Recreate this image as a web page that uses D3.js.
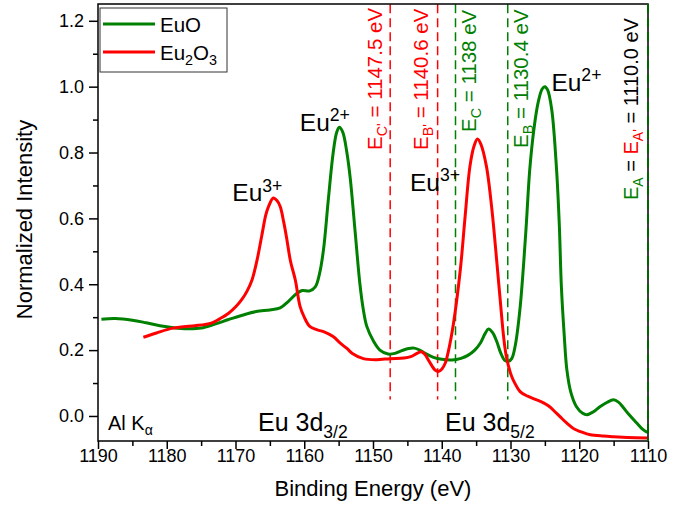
<!DOCTYPE html>
<html>
<head>
<meta charset="utf-8">
<script src="https://cdn.jsdelivr.net/npm/d3@7"></script>
<style>
  html, body { margin: 0; padding: 0; background: #fff; }
  svg { display: block; font-family: "Liberation Sans", Arial, sans-serif; }
</style>
</head>
<body>
<svg id="chart" width="697" height="522"></svg>
<script>
// Eu 3d XPS spectra (Al Kα), normalized intensity vs binding energy (eV)
const euoEnergy = [1189.5, 1187.5, 1185, 1183, 1181, 1179, 1177, 1175, 1173, 1171, 1169, 1167, 1165, 1163.5,
  1162.3, 1161.1, 1160.3, 1159.2, 1158.4, 1157.8, 1157.2, 1156.5, 1155.8, 1155.3, 1154.9, 1154.4, 1153.8,
  1153.3, 1152.6, 1151.9, 1151.4, 1150.9, 1149.9, 1149.0, 1147.8, 1146.8, 1146.0, 1144.8, 1144.0, 1143.2,
  1142.4, 1141.2, 1140.0, 1138.5, 1137.2, 1136.2, 1135.2, 1134.4, 1133.7, 1133.2, 1132.6, 1132.0, 1131.4,
  1130.8, 1130.3, 1129.8, 1129.3, 1128.6, 1127.8, 1127.2, 1126.6, 1126.0, 1125.4, 1125.0, 1124.6, 1124.0,
  1123.3, 1122.9, 1122.6, 1122.2, 1121.8, 1121.2, 1120.4, 1119.5, 1118.9, 1118.0, 1117.0, 1116.0, 1115.0,
  1114.3, 1113.6, 1112.8, 1111.6, 1110.8, 1110.1];
const euoIntensity = [0.294, 0.296, 0.291, 0.283, 0.274, 0.268, 0.265, 0.267, 0.279, 0.293, 0.306, 0.317, 0.322, 0.328,
  0.348, 0.372, 0.381, 0.380, 0.392, 0.43, 0.505, 0.657, 0.798, 0.86, 0.877, 0.862, 0.80,
  0.72, 0.56, 0.40, 0.322, 0.272, 0.226, 0.200, 0.188, 0.190, 0.197, 0.205, 0.206, 0.200,
  0.190, 0.178, 0.172, 0.170, 0.175, 0.184, 0.200, 0.221, 0.250, 0.264, 0.253, 0.226, 0.190,
  0.168, 0.166, 0.175, 0.215, 0.33, 0.55, 0.748, 0.87, 0.95, 0.993, 1.000, 0.99, 0.93,
  0.748, 0.58, 0.393, 0.25, 0.14, 0.07, 0.028, 0.008, 0.004, 0.012, 0.028, 0.041, 0.049,
  0.042, 0.026, 0.005, -0.022, -0.040, -0.050];

const eu2o3Energy = [1183.4, 1181.5, 1179.3, 1177.5, 1175.9, 1173.5, 1172.3, 1171.0, 1169.9, 1169.1, 1168.3, 1167.6,
  1166.9, 1166.2, 1165.6, 1165.2, 1164.5, 1164.0, 1163.5, 1163.0, 1162.6, 1162.0, 1161.3, 1160.6, 1160.0,
  1159.2, 1158.2, 1157.2, 1155.8, 1154.8, 1153.8, 1153.0, 1151.4, 1149.5, 1147.5, 1145.5, 1144.5, 1143.6,
  1143.0, 1142.5, 1141.8, 1141.0, 1140.5, 1140.0, 1139.5, 1139.0, 1138.3, 1137.3, 1136.6, 1135.9, 1135.3,
  1134.8, 1134.3, 1133.5, 1132.7, 1132.0, 1131.5, 1131.0, 1130.6, 1130.0, 1129.6, 1128.6, 1127.5, 1126.2,
  1125.2, 1124.3, 1123.5, 1122.8, 1121.8, 1120.9, 1119.5, 1118.4, 1116.5, 1115.0, 1113.0, 1110.1];
const eu2o3Intensity = [0.239, 0.252, 0.266, 0.271, 0.274, 0.282, 0.295, 0.312, 0.333, 0.353, 0.38, 0.413,
  0.47, 0.545, 0.61, 0.636, 0.662, 0.655, 0.636, 0.59, 0.545, 0.47, 0.413, 0.332, 0.30,
  0.272, 0.262, 0.256, 0.241, 0.222, 0.205, 0.190, 0.174, 0.171, 0.174, 0.176, 0.180, 0.190,
  0.195, 0.188, 0.165, 0.140, 0.135, 0.142, 0.16, 0.20, 0.28, 0.444, 0.606, 0.758, 0.82,
  0.841, 0.825, 0.758, 0.626, 0.47, 0.353, 0.24, 0.18, 0.13, 0.109, 0.074, 0.060, 0.049,
  0.040, 0.028, 0.012, -0.002, -0.022, -0.037, -0.050, -0.057, -0.061, -0.063, -0.065, -0.067];

// Reference energies marked by dashed lines
const markerEnergies = [1147.5, 1140.6, 1138.0, 1130.4];
const markerSeries = ["Eu2O3", "Eu2O3", "EuO", "EuO"];
const edgeEnergy = 1110.0;

const xTicks = [1190, 1180, 1170, 1160, 1150, 1140, 1130, 1120, 1110];
const xMinorTicks = [1185, 1175, 1165, 1155, 1145, 1135, 1125, 1115];
const yTicks = [0.0, 0.2, 0.4, 0.6, 0.8, 1.0, 1.2];
const yMinorTicks = [0.1, 0.3, 0.5, 0.7, 0.9, 1.1];

const GREEN = "#008000", RED = "#ff0000";
const seriesColor = { EuO: GREEN, Eu2O3: RED };

const svg = d3.select("#chart");
const L = 98, R = 648, T = 4, B = 441;
const x = d3.scaleLinear().domain([1190, 1110]).range([L, R]);
const y = d3.scaleLinear().domain([-0.076, 1.251]).range([B, T]);

svg.append("defs").append("clipPath").attr("id", "plotClip")
  .append("rect").attr("x", L).attr("y", T).attr("width", R - L).attr("height", B - T);

// dashed reference lines
svg.append("g").selectAll("line").data(markerEnergies).join("line")
  .attr("x1", d => x(d)).attr("x2", d => x(d))
  .attr("y1", y(1.25)).attr("y2", y(0.05))
  .attr("stroke", (d, i) => seriesColor[markerSeries[i]])
  .attr("stroke-width", 1.5)
  .attr("stroke-dasharray", "9,5");

// spectra
const line = d3.line().curve(d3.curveCatmullRom.alpha(0.5));
const plot = svg.append("g").attr("clip-path", "url(#plotClip)");
plot.append("path")
  .attr("d", line(euoEnergy.map((e, i) => [x(e), y(euoIntensity[i])])))
  .attr("fill", "none").attr("stroke", GREEN).attr("stroke-width", 3).attr("stroke-linejoin", "round");
plot.append("path")
  .attr("d", line(eu2o3Energy.map((e, i) => [x(e), y(eu2o3Intensity[i])])))
  .attr("fill", "none").attr("stroke", RED).attr("stroke-width", 3).attr("stroke-linejoin", "round");

// axes
svg.append("g").attr("transform", `translate(0,${B})`)
  .call(d3.axisBottom(x).tickValues(xTicks).tickSize(8).tickPadding(0).tickFormat(d3.format("d")));
svg.append("g").attr("transform", `translate(0,${B})`)
  .call(d3.axisBottom(x).tickValues(xMinorTicks).tickSize(5).tickFormat(""));
svg.append("g").attr("transform", `translate(${L},0)`)
  .call(d3.axisLeft(y).tickValues(yTicks).tickSize(9).tickPadding(5).tickFormat(d3.format(".1f")));
svg.append("g").attr("transform", `translate(${L},0)`)
  .call(d3.axisLeft(y).tickValues(yMinorTicks).tickSize(5).tickFormat(""));
svg.selectAll(".domain").remove();
svg.selectAll(".tick line").attr("stroke", "#000").attr("stroke-width", 1.5);
svg.selectAll(".tick text").attr("fill", "#000").style("font-size", "18px")
  .style("font-family", "'Liberation Sans', Arial, sans-serif");

// frame
svg.append("rect").attr("x", L).attr("y", T).attr("width", R - L).attr("height", B - T)
  .attr("fill", "none").attr("stroke", "#000").attr("stroke-width", 1.5);

// edge line at E_A
svg.append("line").attr("x1", x(edgeEnergy)).attr("x2", x(edgeEnergy))
  .attr("y1", T).attr("y2", B)
  .attr("stroke", "#006400").attr("stroke-width", 2).attr("stroke-dasharray", "9,5");

// axis titles
svg.append("text").attr("x", (L + R) / 2).attr("y", 496).attr("text-anchor", "middle")
  .style("font-size", "22px").text("Binding Energy (eV)");
svg.append("text").attr("transform", `translate(32,${(T + B) / 2 - 3}) rotate(-90)`)
  .attr("text-anchor", "middle").style("font-size", "22px").text("Normalized Intensity");

// rich text helper: parts = [text, kind, color]
function rich(sel, parts, size, shift) {
  let offset = 0;
  parts.forEach(([t, kind, color]) => {
    const ts = sel.append("tspan").text(t);
    let target = 0, fs = size;
    if (kind === "sub") { target = shift; fs = size * 0.7; }
    if (kind === "sup") { target = -shift * 1.4; fs = size * 0.72; }
    ts.attr("dy", target - offset).style("font-size", fs + "px");
    if (color) ts.attr("fill", color);
    offset = target;
  });
  return sel;
}

// vertical energy labels
const vLabels = [
  { e: markerEnergies[0], dx: -8, bottom: 150, parts: [["E", "", RED], ["C'", "sub", RED], [" = 1147.5 eV", "", RED]] },
  { e: markerEnergies[1], dx: -9.5, bottom: 150, parts: [["E", "", RED], ["B'", "sub", RED], [" = 1140.6 eV", "", RED]] },
  { e: markerEnergies[2], dx: 20, bottom: 132, parts: [["E", "", GREEN], ["C", "sub", GREEN], [" = 1138 eV", "", GREEN]] },
  { e: markerEnergies[3], dx: 20.5, bottom: 148, parts: [["E", "", GREEN], ["B", "sub", GREEN], [" = 1130.4 eV", "", GREEN]] },
  { e: edgeEnergy, dx: -10, bottom: 200, parts: [["E", "", GREEN], ["A", "sub", GREEN], [" = ", "", "#000"], ["E", "", RED], ["A'", "sub", RED], [" = 1110.0 eV", "", "#000"]] }
];
vLabels.forEach((lb, i) => {
  const t = svg.append("text").attr("transform", `translate(${x(lb.e) + lb.dx},${lb.bottom}) rotate(-90)`);
  rich(t, lb.parts, i === 4 ? 20 : 20.5, 5);
});

// peak annotations
const peakNotes = [
  { e: 1164.5, v: 0.662, dx: -41, dy: 3.5, ion: "3+" },
  { e: 1154.9, v: 0.877, dx: -39.5, dy: 4, ion: "2+" },
  { e: 1134.8, v: 0.841, dx: -67.5, dy: 51.5, ion: "3+" },
  { e: 1125.0, v: 1.000, dx: 6.5, dy: 4.5, ion: "2+" }
];
peakNotes.forEach(p => {
  const t = svg.append("text").attr("x", x(p.e) + p.dx).attr("y", y(p.v) + p.dy);
  rich(t, [["Eu", ""], [p.ion, "sup"]], 24.5, 7);
});

// region labels
rich(svg.append("text").attr("x", 258).attr("y", 431), [["Eu 3d", ""], ["3/2", "sub"]], 25, 7);
rich(svg.append("text").attr("x", 445).attr("y", 431), [["Eu 3d", ""], ["5/2", "sub"]], 25, 7);
rich(svg.append("text").attr("x", 108).attr("y", 430), [["Al K", ""], ["α", "sub"]], 20, 5);

// legend
const lg = svg.append("g");
lg.append("rect").attr("x", 100).attr("y", 8).attr("width", 127).attr("height", 64)
  .attr("fill", "#fff").attr("stroke", "#333").attr("stroke-width", 1);
const legendItems = [["EuO", GREEN, [["EuO", ""]]], ["Eu2O3", RED, [["Eu", ""], ["2", "sub"], ["O", ""], ["3", "sub"]]]];
legendItems.forEach(([name, color, parts], i) => {
  const cy = 24 + i * 28;
  lg.append("line").attr("x1", 103).attr("x2", 155).attr("y1", cy).attr("y2", cy)
    .attr("stroke", color).attr("stroke-width", 3);
  rich(lg.append("text").attr("x", 160).attr("y", cy + 8), parts, 20.5, 5);
});
</script>
</body>
</html>
